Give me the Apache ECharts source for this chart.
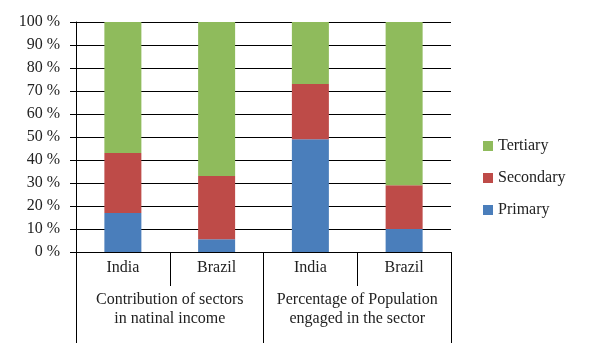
<!DOCTYPE html>
<html>
<head>
<meta charset="utf-8">
<script src="https://cdn.jsdelivr.net/npm/echarts@6/dist/echarts.min.js"></script>
<style>
  html, body { margin: 0; padding: 0; background: #fff; }
  #chart { width: 603px; height: 352px; }
</style>
</head>
<body>
<div id="chart"></div>
<script>
// data (percent)
var countries = ["India", "Brazil", "India", "Brazil"];
var groups = ["Contribution of sectors\nin natinal income", "Percentage of Population\nengaged in the sector"];
var primary = [17, 5.5, 49, 10];
var secondary = [26, 27.5, 24, 19];
var tertiary = [57, 67, 27, 71];

var font = "Liberation Serif";
var chart = echarts.init(document.getElementById("chart"));

function bar(name, data, color) {
  return {
    name: name,
    type: "bar",
    stack: "all",
    barWidth: 37,
    data: data,
    itemStyle: { color: color }
  };
}

chart.setOption({
  backgroundColor: "#fff",
  animation: false,
  textStyle: { fontFamily: font },
  grid: { left: 76, right: 152, top: 22, bottom: 100 },
  legend: {
    orient: "vertical",
    left: 478,
    top: 133,
    itemWidth: 10,
    itemHeight: 10,
    itemGap: 16,
    icon: "rect",
    data: ["Tertiary", "Secondary", "Primary"],
    textStyle: { fontFamily: font, fontSize: 16, color: "#222" }
  },
  xAxis: [
    {
      type: "category",
      data: countries,
      axisLine: { lineStyle: { color: "#000" } },
      axisTick: { show: true, interval: 0, length: 34, lineStyle: { color: "#000" } },
      axisLabel: { interval: 0, margin: 8, fontFamily: font, fontSize: 16, color: "#222" }
    },
    {
      type: "category",
      position: "bottom",
      data: groups,
      axisLine: { show: false },
      axisTick: { show: true, interval: 0, length: 91, lineStyle: { color: "#000" } },
      axisLabel: { interval: 0, margin: 38, lineHeight: 19, fontFamily: font, fontSize: 16, color: "#222" }
    }
  ],
  yAxis: {
    type: "value",
    min: 0,
    max: 100,
    interval: 10,
    axisLine: { show: true, lineStyle: { color: "#000" } },
    axisTick: { show: true, length: 6, lineStyle: { color: "#000" } },
    splitLine: { lineStyle: { color: "#000", width: 1 } },
    axisLabel: { formatter: "{value} %", margin: 16, fontFamily: font, fontSize: 16, color: "#222" }
  },
  series: [
    bar("Primary", primary, "#4a7ebb"),
    bar("Secondary", secondary, "#be4b48"),
    bar("Tertiary", tertiary, "#8fbb5c")
  ]
});
</script>
</body>
</html>
